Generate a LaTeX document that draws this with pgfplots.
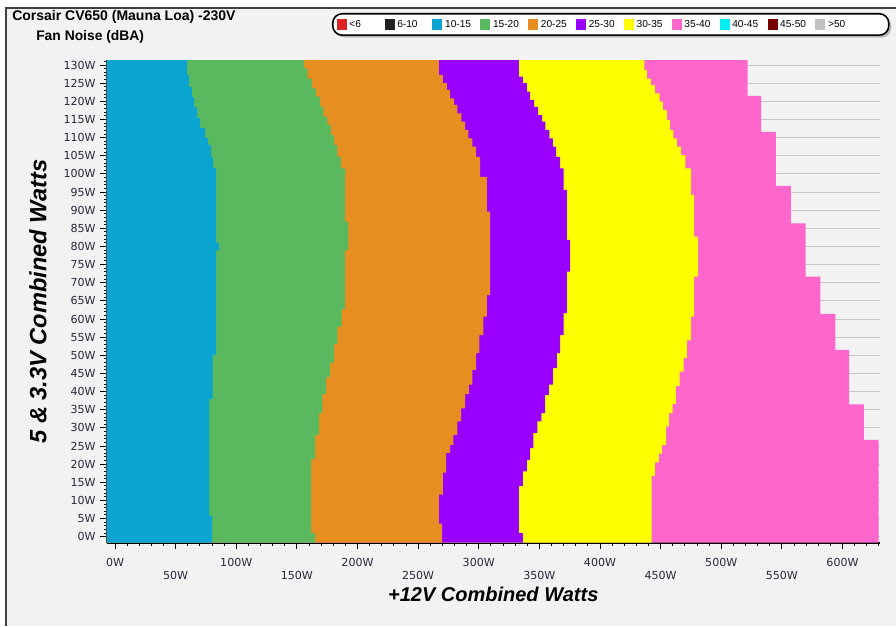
\documentclass[border=0pt]{standalone}
\usepackage{fontspec}
\setmainfont{Liberation Sans}
\newfontfamily\tickfont{DejaVu Sans}
\usepackage{pgfplots}
\pgfplotsset{compat=1.18}
\usetikzlibrary{shadows}
\definecolor{bgGray}{RGB}{242,242,242}
\definecolor{cRed}{RGB}{221,34,34}
\definecolor{cBlack}{RGB}{34,34,34}
\definecolor{cBlue}{RGB}{11,163,207}
\definecolor{cGreen}{RGB}{90,185,95}
\definecolor{cOrange}{RGB}{230,143,32}
\definecolor{cPurple}{RGB}{153,0,255}
\definecolor{cYellow}{RGB}{255,255,0}
\definecolor{cPink}{RGB}{255,102,204}
\definecolor{cCyan}{RGB}{0,238,238}
\definecolor{cDarkRed}{RGB}{120,0,0}
\definecolor{cGray}{RGB}{192,192,192}
\definecolor{tickText}{RGB}{40,40,60}
\begin{document}
\begin{tikzpicture}
\begin{scope}[x=0.75pt,y=-0.75pt]
\fill[white] (0,0) rectangle (896,626);
\fill[bgGray] (6,8) rectangle (896,626);
\draw[line width=0.8pt, black!75] (6,626) -- (6,8) -- (896,8);
\node[anchor=west, inner sep=0pt, font=\bfseries\fontsize{10.5}{12}\selectfont] at (12,17) {Corsair CV650 (Mauna Loa) -230V};
\node[anchor=west, inner sep=0pt, font=\bfseries\fontsize{10.4}{12}\selectfont] at (36,37) {Fan Noise (dBA)};
\end{scope}
\begin{axis}[
  at={(80.25pt,-407.025pt)}, anchor=south west,
  scale only axis, width=579.375pt, height=362.025pt,
  xmin=-6.6, xmax=630.5, ymin=-1.65, ymax=131.4,
  axis x line*=bottom, axis y line*=left,
  axis line style={line width=1.8pt, -},
  tick align=outside,
  major tick length=5pt, minor tick length=2.5pt,
  tick style={black, line width=0.75pt},
  xtick={0,100,...,600}, minor xtick={0,10,...,630},
  extra x ticks={50,150,...,550},
  xticklabel style={yshift=-3pt},
  extra x tick style={xticklabel style={yshift=-10.1pt}},
  ytick={0,5,...,130}, minor ytick={0,1,...,131},
  ymajorgrids, major grid style={draw=black!22, line width=0.75pt},
  xticklabel={\pgfmathprintnumber[assume math mode=true]{\tick}W},
  yticklabel={\pgfmathprintnumber[assume math mode=true]{\tick}W},
  tick label style={font=\tickfont\fontsize{8.3}{9}\selectfont, text=tickText},
  xlabel={+12V Combined Watts},
  ylabel={5 \& 3.3V Combined Watts},
  xlabel style={at={(axis description cs:0.5,-0.1063)}, anchor=center, font=\bfseries\itshape\fontsize{15}{17}\selectfont},
  ylabel style={at={(axis description cs:-0.0893,0.5)}, anchor=center, font=\bfseries\itshape\fontsize{17.7}{19}\selectfont},
  legend columns=11,
  legend cell align=left,
  legend image code/.code={\pgfsetcornersarced{\pgfpointorigin}\pgfpathrectangle{\pgfpoint{0pt}{-4.4pt}}{\pgfpoint{7.5pt}{8.8pt}}\pgfusepath{fill}},
  legend style={at={(axis description cs:0.2912,1.0974)}, anchor=north west,
    draw=black, line width=1.2pt, rounded corners=7pt, fill=white,
    drop shadow={shadow xshift=1.8pt, shadow yshift=-1.8pt, fill=black!50},
    font=\fontsize{7.6}{8}\selectfont, inner xsep=3pt, inner ysep=2.6pt},
]
\addlegendimage{fill=cRed, draw=none}\addlegendentry{\makebox[24.4pt][l]{<6}}
\addlegendimage{fill=cBlack, draw=none}\addlegendentry{\makebox[24.4pt][l]{6-10}}
\addlegendimage{fill=cBlue, draw=none}\addlegendentry{\makebox[24.4pt][l]{10-15}}
\addlegendimage{fill=cGreen, draw=none}\addlegendentry{\makebox[24.4pt][l]{15-20}}
\addlegendimage{fill=cOrange, draw=none}\addlegendentry{\makebox[24.4pt][l]{20-25}}
\addlegendimage{fill=cPurple, draw=none}\addlegendentry{\makebox[24.4pt][l]{25-30}}
\addlegendimage{fill=cYellow, draw=none}\addlegendentry{\makebox[24.4pt][l]{30-35}}
\addlegendimage{fill=cPink, draw=none}\addlegendentry{\makebox[24.4pt][l]{35-40}}
\addlegendimage{fill=cCyan, draw=none}\addlegendentry{\makebox[24.4pt][l]{40-45}}
\addlegendimage{fill=cDarkRed, draw=none}\addlegendentry{\makebox[24.4pt][l]{45-50}}
\addlegendimage{fill=cGray, draw=none}\addlegendentry{\makebox[40.5pt][l]{>50}}
% 35-40 dBA region (pink)
\addplot[fill=cPink, draw=none, forget plot] coordinates {(-6.6,-1.65) (629.8,-1.65) (629.8,26.7) (617.7,26.7) (617.7,36.5) (605.4,36.5) (605.4,51.5) (594.1,51.5) (594.1,61.4) (581.7,61.4) (581.7,71.7) (569.6,71.7) (569.6,86.4) (557.5,86.4) (557.5,96.7) (545.1,96.7) (545.1,111.6) (532.8,111.6) (532.8,121.5) (521.7,121.5) (521.7,131.4) (-6.6,131.4)} -- cycle;
% 30-35 dBA region (yellow)
\addplot[fill=cYellow, draw=none, forget plot] coordinates {(-6.6,-1.65) (442.5,-1.65) (442.5,16.8) (445.3,16.8) (445.3,20.5) (448.6,20.5) (448.6,22.9) (451.3,22.9) (451.3,25.3) (454.6,25.3) (454.6,30.4) (456.8,30.4) (456.8,34.1) (459.8,34.1) (459.8,36.6) (462.6,36.6) (462.6,41.6) (465.6,41.6) (465.6,45.5) (468.9,45.5) (468.9,49.2) (471.7,49.2) (471.7,54.1) (475.0,54.1) (475.0,60.7) (477.7,60.7) (477.7,71.7) (481.0,71.7) (481.0,82.7) (477.7,82.7) (477.7,94.2) (475.0,94.2) (475.0,101.5) (470.3,101.5) (470.3,105.2) (466.7,105.2) (466.7,107.5) (463.4,107.5) (463.4,109.8) (460.6,109.8) (460.6,112.1) (457.9,112.1) (457.9,114.8) (455.2,114.8) (455.2,117.6) (451.9,117.6) (451.9,119.9) (449.1,119.9) (449.1,122.2) (445.3,122.2) (445.3,124.5) (442.0,124.5) (442.0,126.3) (438.6,126.3) (438.6,128.6) (436.5,128.6) (436.5,131.4) (-6.6,131.4)} -- cycle;
% 25-30 dBA region (purple)
\addplot[fill=cPurple, draw=none, forget plot] coordinates {(-6.6,-1.65) (336.4,-1.65) (336.4,1.0) (333.1,1.0) (333.1,14.0) (336.4,14.0) (336.4,18.0) (339.7,18.0) (339.7,21.2) (342.4,21.2) (342.4,24.4) (345.1,24.4) (345.1,28.6) (348.4,28.6) (348.4,31.8) (351.7,31.8) (351.7,34.1) (354.8,34.1) (354.8,39.1) (357.8,39.1) (357.8,41.9) (361.1,41.9) (361.1,46.5) (364.4,46.5) (364.4,50.6) (367.2,50.6) (367.2,55.6) (369.9,55.6) (369.9,61.6) (372.7,61.6) (372.7,73.1) (375.4,73.1) (375.4,81.8) (372.7,81.8) (372.7,95.6) (369.9,95.6) (369.9,101.5) (367.2,101.5) (367.2,104.7) (363.9,104.7) (363.9,107.5) (361.1,107.5) (361.1,109.8) (358.3,109.8) (358.3,112.1) (355.0,112.1) (355.0,114.4) (352.3,114.4) (352.3,116.2) (349.0,116.2) (349.0,118.5) (345.7,118.5) (345.7,120.4) (342.4,120.4) (342.4,122.7) (339.7,122.7) (339.7,125.0) (336.4,125.0) (336.4,126.8) (333.1,126.8) (333.1,131.4) (-6.6,131.4)} -- cycle;
% 20-25 dBA region (orange)
\addplot[fill=cOrange, draw=none, forget plot] coordinates {(-6.6,-1.65) (269.8,-1.65) (269.8,3.6) (267.1,3.6) (267.1,11.6) (270.4,11.6) (270.4,17.7) (273.1,17.7) (273.1,23.1) (276.4,23.1) (276.4,25.3) (279.1,25.3) (279.1,28.1) (282.4,28.1) (282.4,31.8) (285.5,31.8) (285.5,35.4) (288.8,35.4) (288.8,39.3) (291.8,39.3) (291.8,41.9) (294.8,41.9) (294.8,46.0) (297.9,46.0) (297.9,50.6) (300.6,50.6) (300.6,55.6) (303.9,55.6) (303.9,60.7) (306.7,60.7) (306.7,66.6) (309.4,66.6) (309.4,89.6) (306.7,89.6) (306.7,99.2) (301.2,99.2) (301.2,104.7) (297.9,104.7) (297.9,107.5) (294.8,107.5) (294.8,109.8) (291.5,109.8) (291.5,112.1) (288.8,112.1) (288.8,114.4) (285.7,114.4) (285.7,116.7) (282.4,116.7) (282.4,119.0) (279.7,119.0) (279.7,120.8) (276.4,120.8) (276.4,123.1) (273.6,123.1) (273.6,125.0) (270.3,125.0) (270.3,127.2) (267.0,127.2) (267.0,131.4) (-6.6,131.4)} -- cycle;
% 15-20 dBA region (green)
\addplot[fill=cGreen, draw=none, forget plot] coordinates {(-6.6,-1.65) (165.0,-1.65) (165.0,1.0) (161.7,1.0) (161.7,21.4) (165.0,21.4) (165.0,28.1) (168.1,28.1) (168.1,34.1) (171.0,34.1) (171.0,39.3) (174.1,39.3) (174.1,44.0) (177.4,44.0) (177.4,48.0) (180.7,48.0) (180.7,53.1) (183.4,53.1) (183.4,57.9) (187.0,57.9) (187.0,62.8) (189.8,62.8) (189.8,79.0) (192.5,79.0) (192.5,86.8) (189.8,86.8) (189.8,101.5) (186.2,101.5) (186.2,104.7) (183.4,104.7) (183.4,108.0) (180.7,108.0) (180.7,110.7) (178.0,110.7) (178.0,113.5) (175.2,113.5) (175.2,115.8) (171.9,115.8) (171.9,118.5) (169.1,118.5) (169.1,121.3) (165.8,121.3) (165.8,123.6) (162.3,123.6) (162.3,126.3) (158.7,126.3) (158.7,129.1) (155.9,129.1) (155.9,131.4) (-6.6,131.4)} -- cycle;
% 10-15 dBA region (blue)
\addplot[fill=cBlue, draw=none, forget plot] coordinates {(-6.6,-1.65) (80.0,-1.65) (80.0,5.8) (77.6,5.8) (77.6,38.0) (80.6,38.0) (80.6,50.1) (83.3,50.1) (83.3,79.0) (85.8,79.0) (85.8,81.0) (83.3,81.0) (83.3,101.6) (80.9,101.6) (80.9,104.7) (79.2,104.7) (79.2,108.0) (76.7,108.0) (76.7,109.9) (74.3,109.9) (74.3,112.6) (70.1,112.6) (70.1,115.4) (67.7,115.4) (67.7,118.4) (65.2,118.4) (65.2,121.2) (63.5,121.2) (63.5,123.9) (61.1,123.9) (61.1,127.2) (59.4,127.2) (59.4,131.4) (-6.6,131.4)} -- cycle;
\end{axis}
\pgfresetboundingbox
\path (0pt,0pt) rectangle (672pt,-469.5pt);
\end{tikzpicture}
\end{document}
